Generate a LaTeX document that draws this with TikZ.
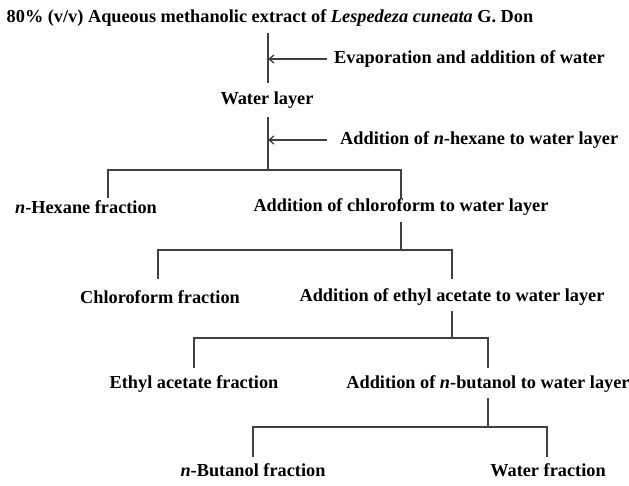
\documentclass[tikz,border=0pt]{standalone}
\usepackage{fontspec}
\setmainfont{Liberation Serif}
\usetikzlibrary{arrows.meta}
\definecolor{linegray}{HTML}{404040}
\begin{document}
\begin{tikzpicture}[x=1pt,y=-1pt,
  txt/.style={font=\fontsize{18.3}{20}\selectfont\bfseries, inner sep=0pt, text=black},
  conn/.style={draw=linegray, line width=1.3pt},
  addarrow/.style={conn, -{Straight Barb[length=5pt,width=8pt]}}]
\useasboundingbox (0,0) rectangle (629,485);
% texts
\node[txt] (title) at (270,18) {80\% (v/v) Aqueous methanolic extract of \textit{Lespedeza cuneata} G. Don};
\node[txt, anchor=west] (evap) at (334,59) {Evaporation and addition of water};
\node[txt] (water) at (267,100) {Water layer};
\node[txt, anchor=west] (hex) at (340,140) {Addition of \textit{n}-hexane to water layer};
\node[txt] (nhex) at (86,207) {\textit{n}-Hexane fraction};
\node[txt] (chl) at (401,207) {Addition of chloroform to water layer};
\node[txt] (chlf) at (160,297) {Chloroform fraction};
\node[txt] (eth) at (452,297) {Addition of ethyl acetate to water layer};
\node[txt] (ethf) at (194,384) {Ethyl acetate fraction};
\node[txt] (but) at (488,384) {Addition of \textit{n}-butanol to water layer};
\node[txt] (butf) at (253,470) {\textit{n}-Butanol fraction};
\node[txt] (wf) at (548,470) {Water fraction};
% junction coordinates
\coordinate (t0) at (268,33);
\coordinate (t1) at (268,83);
\coordinate (a1) at (268,59);
\coordinate (w0) at (268,117);
\coordinate (a2) at (268,140);
\coordinate (j1) at (268,170);
\coordinate (j1l) at (108,170);
\coordinate (j1r) at (401,170);
\coordinate (d1l) at (108,198);
\coordinate (d1r) at (401,198);
\coordinate (c0) at (401,222);
\coordinate (j2) at (401,250);
\coordinate (j2l) at (158,250);
\coordinate (j2r) at (452,250);
\coordinate (d2l) at (158,279);
\coordinate (d2r) at (452,279);
\coordinate (e0) at (452,311);
\coordinate (j3) at (452,338);
\coordinate (j3l) at (194,338);
\coordinate (j3r) at (488,338);
\coordinate (d3l) at (194,368);
\coordinate (d3r) at (488,368);
\coordinate (b0) at (488,398);
\coordinate (j4) at (488,427);
\coordinate (j4l) at (253,427);
\coordinate (j4r) at (547,427);
\coordinate (d4l) at (253,457);
\coordinate (d4r) at (547,457);
% connectors
\draw[conn] (t0) -- (t1);
\draw[addarrow] ([xshift=-7pt]evap.west) -- (a1);
\draw[conn] (w0) -- (j1);
\draw[addarrow] ([xshift=-13pt]hex.west) -- (a2);
\draw[conn] (d1l) -- (j1l) -- (j1r) -- (d1r);
\draw[conn] (c0) -- (j2);
\draw[conn] (d2l) -- (j2l) -- (j2r) -- (d2r);
\draw[conn] (e0) -- (j3);
\draw[conn] (d3l) -- (j3l) -- (j3r) -- (d3r);
\draw[conn] (b0) -- (j4);
\draw[conn] (d4l) -- (j4l) -- (j4r) -- (d4r);
\end{tikzpicture}
\end{document}
